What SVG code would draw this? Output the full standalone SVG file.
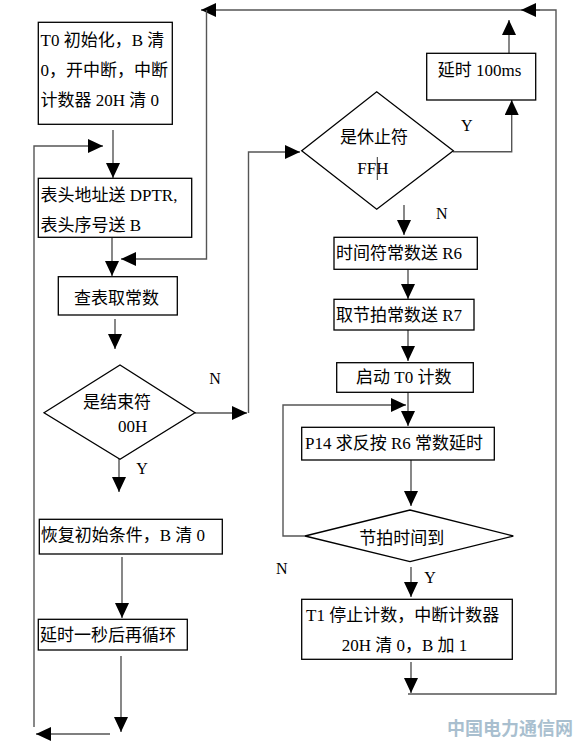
<svg xmlns="http://www.w3.org/2000/svg" width="583" height="746" viewBox="0 0 583 746">
<defs>
<marker id="ah" markerWidth="16" markerHeight="14" refX="15" refY="7" orient="auto" markerUnits="userSpaceOnUse"><path d="M0,0 L15,7 L0,14 z" fill="#000"/></marker>
<style>
.box{fill:#fff;stroke:#000;stroke-width:1.3}
.t{font-family:"Liberation Serif","Noto Sans CJK SC",serif;font-size:17px;fill:#000}
.lbl{font-family:"Liberation Serif",serif;font-size:16px;fill:#000}
.c{fill:none;stroke:#555;stroke-width:1.4}
.a{fill:none;stroke:#555;stroke-width:1.4;marker-end:url(#ah)}
</style>
</defs>
<rect width="583" height="746" fill="#fff"/>
<g id="connectors">
<path class="a" d="M113,130 V178"/>
<path class="a" d="M112,237 V276"/>
<path class="a" d="M408,694 H556 V10 H201"/>
<path class="a" d="M540,10 H521"/>
<path class="a" d="M206.5,10 V259 H121"/>
<path class="a" d="M509,53 V20"/>
<path class="a" d="M34,727 V146 H103"/>
<path class="a" d="M110,734 H36"/>
<path class="a" d="M121,656 V732"/>
<path class="a" d="M115,319 V349"/>
<path class="a" d="M195,413 H247"/>
<path class="a" d="M248.5,413 V152 H300"/>
<path class="a" d="M119,459 V492"/>
<path class="a" d="M122,557 V618"/>
<path class="a" d="M453,151.7 H511.7 V100"/>
<path class="a" d="M404,205 V235"/>
<path class="a" d="M408,269 V299"/>
<path class="a" d="M408,330 V361"/>
<path class="a" d="M408,392 V426"/>
<path class="a" d="M305,536 H283 V405 H406"/>
<path class="a" d="M411,460 V506"/>
<path class="a" d="M411,567 V597"/>
<path class="a" d="M411,662 V693"/>
</g>
<g id="n_init">
<rect class="box" x="38.3" y="22.3" width="134" height="102"/>
<text class="t" x="40.5" y="46">T0 初始化，B 清</text>
<text class="t" x="40.5" y="76">0，开中断，中断</text>
<text class="t" x="40.5" y="106">计数器 20H 清 0</text>
</g>
<g id="n_dptr">
<rect class="box" x="38.3" y="178.3" width="153.4" height="59"/>
<text class="t" x="40.5" y="201">表头地址送 DPTR,</text>
<text class="t" x="40.5" y="231">表头序号送 B</text>
</g>
<g id="n_lookup">
<rect class="box" x="58.3" y="276.7" width="119" height="38.3"/>
<text class="t" x="74" y="304">查表取常数</text>
</g>
<g id="n_end">
<polygon class="box" points="44,412.7 120,365 195,412.7 120,459.3"/>
<text class="t" x="83" y="408">是结束符</text>
<text class="t" x="118" y="432">00H</text>
</g>
<g id="n_restore">
<rect class="box" x="39.3" y="519.3" width="183" height="34.7"/>
<text class="t" x="40.7" y="541">恢复初始条件，B 清 0</text>
</g>
<g id="n_delay1s">
<rect class="box" x="38.3" y="619.3" width="149" height="30.7"/>
<text class="t" x="40" y="641">延时一秒后再循环</text>
</g>
<g id="n_delay100">
<rect class="box" x="426.7" y="53.3" width="109" height="46.7"/>
<text class="t" x="437.7" y="76">延时 100ms</text>
</g>
<g id="n_stop">
<polygon class="box" points="301.7,150.7 376.7,91.7 453.3,150.7 376.7,209.3"/>
<text class="t" x="340" y="143">是休止符</text>
<text class="t" x="357.3" y="174">FFH</text>
<line x1="377.3" y1="157" x2="377.3" y2="180" stroke="#000" stroke-width="0.8"/>
</g>
<g id="n_r6">
<rect class="box" x="334" y="237.3" width="143.3" height="32"/>
<text class="t" x="336" y="259">时间符常数送 R6</text>
</g>
<g id="n_r7">
<rect class="box" x="334" y="299.3" width="140" height="30.7"/>
<text class="t" x="336" y="321">取节拍常数送 R7</text>
</g>
<g id="n_t0">
<rect class="box" x="336.7" y="362.7" width="136.6" height="29.6"/>
<text class="t" x="356" y="383">启动 T0 计数</text>
</g>
<g id="n_p14">
<rect class="box" x="301.7" y="427.3" width="192.6" height="32.7"/>
<text class="t" x="305" y="449">P14 求反按 R6 常数延时</text>
</g>
<g id="n_beat">
<polygon class="box" points="305,536 410,510 513.3,536 410,561.7"/>
<text class="t" x="359.3" y="544">节拍时间到</text>
</g>
<g id="n_t1">
<rect class="box" x="301.7" y="599.3" width="210.6" height="60"/>
<text class="t" x="306" y="621">T1 停止计数，中断计数器</text>
<text class="t" x="341.7" y="651">20H 清 0，B 加 1</text>
</g>
<g id="labels">
<text class="lbl" x="215" y="384" text-anchor="middle">N</text>
<text class="lbl" x="142" y="474" text-anchor="middle">Y</text>
<text class="lbl" x="466.7" y="131" text-anchor="middle">Y</text>
<text class="lbl" x="441.7" y="219" text-anchor="middle">N</text>
<text class="lbl" x="281.7" y="574" text-anchor="middle">N</text>
<text class="lbl" x="430" y="583" text-anchor="middle">Y</text>
</g>
<text x="447" y="735" font-family="'Noto Sans CJK SC',sans-serif" font-weight="bold" font-size="18" fill="#a9bfcf">中国电力通信网</text>
</svg>
